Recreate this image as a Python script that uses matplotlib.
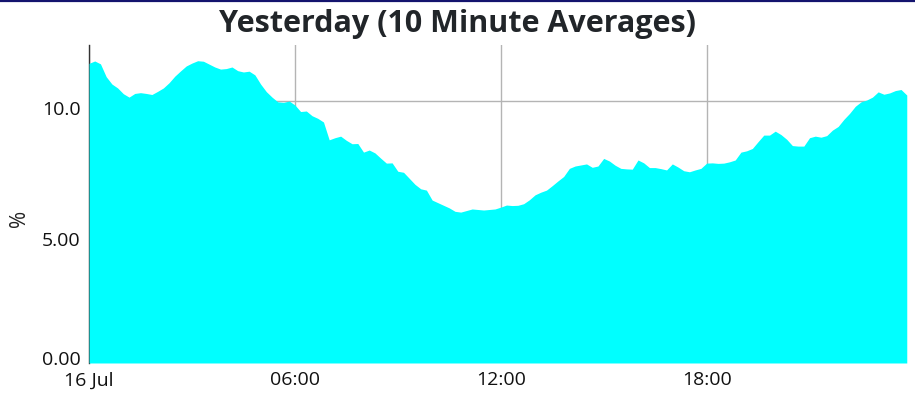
import matplotlib
matplotlib.use("Agg")
import matplotlib.pyplot as plt
import matplotlib.dates as mdates
import matplotlib.transforms as mtransforms
from matplotlib.lines import Line2D
import pandas as pd

# 10 minute averages, 16 Jul 00:00 .. 23:50
times = pd.date_range("2024-07-16 00:00", periods=144, freq="10min")
values = [
    11.44, 11.53, 11.42, 10.93, 10.65, 10.50, 10.28, 10.15, 10.29, 10.32,
    10.29, 10.25, 10.37, 10.50, 10.70, 10.95, 11.15, 11.34, 11.45, 11.54,
    11.52, 11.41, 11.30, 11.22, 11.24, 11.30, 11.16, 11.11, 11.14, 11.00,
    10.65, 10.36, 10.15, 9.97, 9.95, 10.00, 9.85, 9.60, 9.62, 9.44,
    9.34, 9.20, 8.52, 8.60, 8.66, 8.50, 8.37, 8.38, 8.05, 8.13,
    8.02, 7.82, 7.63, 7.64, 7.32, 7.28, 7.05, 6.82, 6.65, 6.60,
    6.22, 6.12, 6.02, 5.92, 5.79, 5.76, 5.82, 5.88, 5.86, 5.84,
    5.86, 5.88, 5.95, 6.03, 6.01, 6.02, 6.08, 6.23, 6.42, 6.52,
    6.60, 6.77, 6.95, 7.12, 7.43, 7.52, 7.56, 7.60, 7.47, 7.52,
    7.81, 7.71, 7.55, 7.43, 7.41, 7.40, 7.75, 7.64, 7.46, 7.46,
    7.42, 7.37, 7.60, 7.48, 7.34, 7.30, 7.37, 7.43, 7.63, 7.64,
    7.62, 7.63, 7.68, 7.75, 8.05, 8.10, 8.19, 8.45, 8.70, 8.70,
    8.85, 8.72, 8.54, 8.30, 8.28, 8.28, 8.60, 8.66, 8.62, 8.68,
    8.89, 9.03, 9.30, 9.53, 9.80, 9.97, 10.04, 10.15, 10.35, 10.26,
    10.31, 10.40, 10.44, 10.23,
]
y_ticks = [0, 5, 10]
y_tick_labels = ["0.00", "5.00", "10.0"]
title = "Yesterday (10 Minute Averages)"

plt.rcParams["font.family"] = ["Open Sans", "DejaVu Sans"]

fig = plt.figure(figsize=(9.15, 3.94), dpi=100)
ax = fig.add_axes([0.0973, 0.0787, 0.8937, 0.8071])

ax.fill_between(times, values, 0, color="#00ffff", lw=0, zorder=2)

ax.set_xlim(times[0], times[-1])
ax.set_ylim(0, 12.14)
ax.set_yticks(y_ticks)
ax.set_yticklabels(y_tick_labels)

ax.xaxis.set_major_locator(mdates.HourLocator(byhour=[0, 6, 12, 18]))
ax.xaxis.set_major_formatter(
    plt.FuncFormatter(lambda v, pos: mdates.num2date(v).strftime("%d %b")
                      if mdates.num2date(v).hour == 0
                      else mdates.num2date(v).strftime("%H:%M")))

ax.grid(True, color="#b4b4b4", lw=1, zorder=0)
ax.set_axisbelow(True)
ax.tick_params(axis="y", length=0, labelsize=14, colors="#111111", pad=6)
ax.tick_params(axis="x", length=0, labelsize=14, colors="#111111", pad=6)
for s in ["top", "right", "bottom"]:
    ax.spines[s].set_visible(False)
ax.spines["left"].set_color("#333333")
ax.spines["left"].set_linewidth(1)
ax.spines["left"].set_zorder(1)

# y labels sit a little below their ticks, the bottom one is nudged up
fig.canvas.draw()
for lab in ax.get_yticklabels():
    dy = 5 if lab.get_text() == "0.00" else -7
    lab.set_transform(lab.get_transform() +
                      mtransforms.ScaledTranslation(0, dy / 100, fig.dpi_scale_trans))

fig.text(20 / 915, (394 - 218) / 394, "%", rotation=90, ha="center", va="center",
         fontsize=15, color="#222222")
fig.suptitle(title, fontsize=22, fontweight="bold", color="#212529", y=0.978)

# navy frame line along the top
fig.add_artist(Line2D([0, 1], [0.998, 0.998], transform=fig.transFigure,
                      color="#14146e", lw=1.6))

fig.savefig("out.png", dpi=100)
